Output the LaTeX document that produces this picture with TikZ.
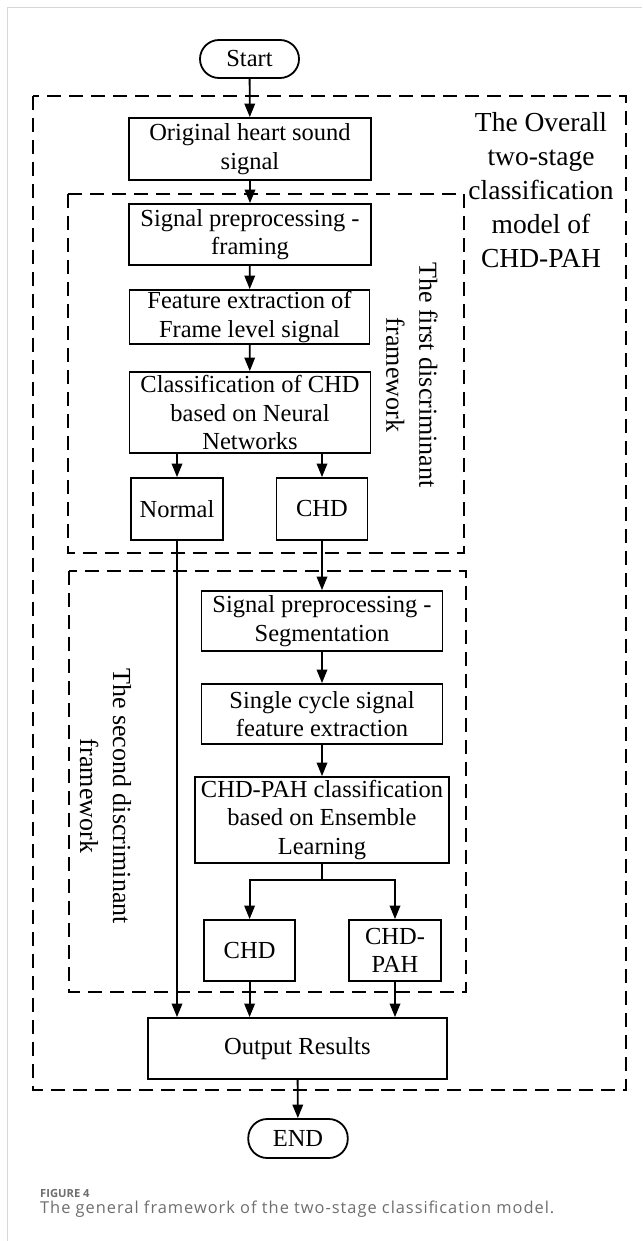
\documentclass[tikz,border=0pt]{standalone}
\usepackage{fontspec}
\setmainfont{Liberation Serif}
\newfontfamily\capfont{Open Sans}
\newfontfamily\capfontwide{Open Sans}[LetterSpace=6]
\usetikzlibrary{arrows.meta}
\definecolor{capgray}{RGB}{110,110,110}
\definecolor{framegray}{RGB}{215,215,215}
\begin{document}
\begin{tikzpicture}[x=1pt,y=-1pt,
  box/.style={draw,line width=1.8pt,align=center,inner sep=0pt,
    font=\fontsize{24.5}{28.5}\selectfont},
  term/.style={box,rounded corners=19pt},
  arr/.style={line width=1.8pt,-{Triangle[length=13.5pt,width=10.5pt]}},
  ln/.style={line width=1.8pt},
  dashbox/.style={line width=1.8pt,dash pattern=on 14pt off 8pt},
  bigtext/.style={align=center,inner sep=0pt,font=\fontsize{27.5}{34}\selectfont},
  sidetext/.style={align=center,inner sep=0pt,rotate=-90,font=\fontsize{26}{33}\selectfont}]
\useasboundingbox (0,0) rectangle (642,1241);
% page frame
\draw[framegray,line width=1.5pt] (7.4,1241) -- (7.4,7.3) -- (642,7.3);
% dashed frames
\draw[dashbox] (33,96) rectangle (626,1090);
\draw[dashbox] (67.6,194) rectangle (464,553);
\draw[dashbox] (69,571) rectangle (466,992);
% nodes
\node[term,minimum width=99pt,minimum height=38pt] (start) at (249.5,59) {Start};
\node[box,minimum width=241.5pt,minimum height=62pt] (orig) at (250,149) {Original heart sound\\signal};
\node[box,minimum width=241.5pt,minimum height=61pt] (sig) at (250,234.5) {Signal preprocessing -\\framing};
\node[box,minimum width=240pt,minimum height=54pt] (feat) at (249.5,317) {Feature extraction of\\Frame level signal};
\node[box,minimum width=241pt,minimum height=81pt] (cls) at (250,412.5) {Classification of CHD\\based on Neural\\Networks};
\node[box,minimum width=92pt,minimum height=62pt] (normal) at (177,509) {Normal};
\node[box,minimum width=91pt,minimum height=62pt] (chd) at (322,509) {CHD};
\node[box,minimum width=241pt,minimum height=60pt] (seg) at (322,621) {Signal preprocessing -\\Segmentation};
\node[box,minimum width=241pt,minimum height=60pt] (single) at (322,714) {Single cycle signal\\feature extraction};
\node[box,minimum width=254pt,minimum height=86pt] (cls2) at (322,820) {CHD-PAH classification\\based on Ensemble\\Learning};
\node[box,minimum width=91pt,minimum height=61pt] (chd2) at (249.6,950.5) {CHD};
\node[box,minimum width=91.6pt,minimum height=61pt] (pah) at (395,950.5) {CHD-\\PAH};
\node[box,minimum width=298.7pt,minimum height=61pt] (out) at (297.4,1048.5) {Output Results};
\node[term,minimum width=99.5pt,minimum height=39pt] (end) at (298,1138.5) {END};
% labels
\node[bigtext] (overall) at (541,190) {The Overall\\two-stage\\classification\\model of\\CHD-PAH};
\node[sidetext] (first) at (412,375) {The first discriminant\\framework};
\node[sidetext] (second) at (105.5,796) {The second discriminant\\framework};
% connectors
\draw[arr] (start) -- (orig);
\draw[arr] (orig) -- (sig);
\draw[arr] (sig) -- (feat);
\draw[arr] (feat) -- (cls);
\draw[arr] (cls.south -| normal.north) -- (normal.north);
\draw[arr] (cls.south -| chd.north) -- (chd.north);
\draw[arr] (chd) -- (seg);
\draw[arr] (seg) -- (single);
\draw[arr] (single) -- (cls2);
\draw[ln] (cls2.south) -- ++(0,16) coordinate (br);
\draw[arr] (br) -| (chd2.north);
\draw[arr] (br) -| (pah.north);
\draw[arr] (normal.south) -- (normal.south |- out.north);
\draw[arr] (chd2) -- (chd2.south |- out.north);
\draw[arr] (pah) -- (pah.south |- out.north);
\draw[arr] (out) -- (end);
% caption
\node[anchor=base west,inner sep=0pt,text=capgray,font=\capfont\bfseries\fontsize{11.2}{14}\selectfont] (figlab) at (40,1197) {FIGURE 4};
\node[anchor=base west,inner sep=0pt,text=capgray,font=\capfontwide\fontsize{16.4}{19}\selectfont] (cap) at (40,1213) {The general framework of the two-stage classification model.};
\end{tikzpicture}
\end{document}
